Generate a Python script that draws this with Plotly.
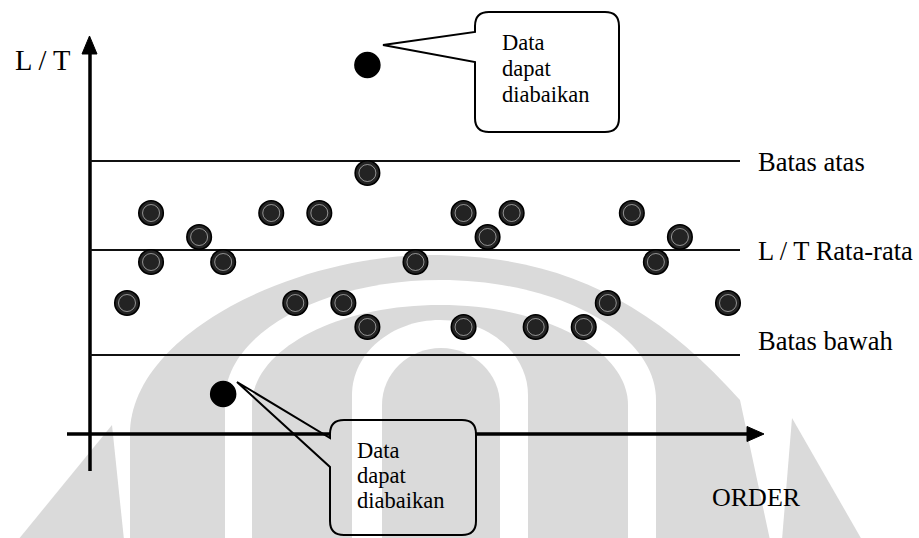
import plotly.graph_objects as go

# ---------------- data ----------------
order = [0, 1, 1, 3, 4, 6, 7, 8, 9, 10, 10, 12, 14, 14, 15, 16, 17, 19, 20, 21, 22, 23, 25]
lt_values = [13.0, 22.0, 17.1, 19.6, 17.1, 22.0, 13.0, 22.0, 13.0, 10.6, 26.0, 17.1,
             22.0, 10.6, 19.6, 22.0, 10.6, 10.6, 13.0, 22.0, 17.1, 19.6, 13.0]
outlier_order = [10, 4]
outlier_values = [36.8, 3.9]

upper_limit = 27.2
mean_value = 18.3
lower_limit = 7.8
limit_labels = ["Batas atas", "L / T Rata-rata", "Batas bawah"]
y_title = "L / T"
x_title = "ORDER"
note_lines = ["Data", "dapat", "diabaikan"]

W, H = 919, 538
X_RANGE = [-5.283, 32.945]
Y_RANGE = [-10.5, 43.3]
FONT = "Liberation Serif, Times New Roman, serif"
GRAY = "#dadada"


def px(x, y):
    """pixel -> paper coordinates (decorations only)"""
    return x / W, 1 - y / H


def path(points_cmds):
    out = []
    for cmd, pts in points_cmds:
        if cmd in ("M", "L"):
            for p in pts:
                out.append(cmd + "%.5f,%.5f" % px(*p))
        else:
            coords = " ".join("%.5f,%.5f" % px(*p) for p in pts)
            out.append(cmd + coords)
    return " ".join(out) + " Z"


def arch(xl, xr, ytop, ysh, ybot=540):
    xc = (xl + xr) / 2
    a = (xr - xl) / 2
    h = ysh - ytop
    k = 0.5523
    return path([
        ("M", [(xl, ybot)]), ("L", [(xl, ysh)]),
        ("C", [(xl, ysh - k * h), (xc - k * a, ytop), (xc, ytop)]),
        ("C", [(xc + k * a, ytop), (xr, ysh - k * h), (xr, ysh)]),
        ("L", [(xr, ybot)]),
    ])


shapes = []


def add_path(p, fill=None, line_color=None, lw=0):
    shapes.append(dict(type="path", xref="paper", yref="paper", path=p,
                       fillcolor=fill if fill else "rgba(0,0,0,0)",
                       line=dict(color=line_color if line_color else "rgba(0,0,0,0)", width=lw),
                       layer="below"))


# ---- watermark (light gray logo) ----
add_path(path([("M", [(18, 540)]), ("L", [(112, 425), (124, 540)])]), fill=GRAY)
add_path(path([("M", [(782, 540)]), ("L", [(792, 418), (862, 540)])]), fill=GRAY)
add_path(path([("M", [(130, 540)]), ("L", [(130, 430)]),
               ("C", [(135, 330), (300, 255), (430, 255)]),
               ("C", [(560, 255), (650, 300), (740, 400)]),
               ("L", [(770, 540)])]), fill=GRAY)
add_path(arch(225, 656, 280, 400), fill="white")
add_path(arch(252, 628, 305, 405), fill=GRAY)
add_path(arch(352, 528, 320, 395), fill="white")
add_path(arch(382, 500, 348, 405), fill=GRAY)

# ---- axes with arrows ----
def add_line(x0, y0, x1, y1, w, color="black"):
    a = px(x0, y0)
    b = px(x1, y1)
    shapes.append(dict(type="line", xref="paper", yref="paper", x0=a[0], y0=a[1], x1=b[0], y1=b[1],
                       line=dict(color=color, width=w), layer="below"))


add_line(90, 471, 90, 50, 3.5)
add_path(path([("M", [(82, 54)]), ("L", [(89.5, 36), (97, 54)])]), fill="black", line_color="black", lw=1)
add_line(67, 434, 330, 434, 3.5)
add_line(476, 434, 750, 434, 3.5)
add_path(path([("M", [(747, 426.5)]), ("L", [(764, 434), (747, 441.5)])]), fill="black", line_color="black", lw=1)

# ---- limit lines (data y) ----
for yv in (upper_limit, mean_value, lower_limit):
    shapes.append(dict(type="line", xref="paper", yref="y", x0=90 / W, x1=740 / W, y0=yv, y1=yv,
                       line=dict(color="#111111", width=2), layer="below"))

# ---- callout bubbles ----
def bubble(xl, yt, xr, yb, att1, att2, tip, r=14):
    return path([
        ("M", [(xl, att1)]), ("L", [(xl, yt + r)]),
        ("Q", [(xl, yt), (xl + r, yt)]), ("L", [(xr - r, yt)]),
        ("Q", [(xr, yt), (xr, yt + r)]), ("L", [(xr, yb - r)]),
        ("Q", [(xr, yb), (xr - r, yb)]), ("L", [(xl + r, yb)]),
        ("Q", [(xl, yb), (xl, yb - r)]), ("L", [(xl, att2)]),
        ("L", [tip]),
    ])


add_path(bubble(475, 12, 619, 132, 32, 62, (383, 45)), line_color="black", lw=2)
add_path(bubble(330, 420, 476, 535, 438, 467, (237, 382)), line_color="black", lw=2)

fig = go.Figure()

fig.add_trace(go.Scatter(
    x=order, y=lt_values, mode="markers",
    marker=dict(size=24.5, color="#232323", line=dict(color="black", width=1.6)),
    hoverinfo="skip", showlegend=False))
fig.add_trace(go.Scatter(
    x=order, y=lt_values, mode="markers",
    marker=dict(size=17, symbol="circle-open", color="rgba(255,255,255,0.5)",
                line=dict(color="rgba(255,255,255,0.5)", width=1)),
    hoverinfo="skip", showlegend=False))
fig.add_trace(go.Scatter(
    x=outlier_order, y=outlier_values, mode="markers",
    marker=dict(size=25, color="black", line=dict(color="black", width=1.5)),
    hoverinfo="skip", showlegend=False))

annotations = []


def text_at(x, y, s, size, xanchor="left"):
    p = px(x, y)
    annotations.append(dict(xref="paper", yref="paper", x=p[0], y=p[1], text=s, showarrow=False,
                            xanchor=xanchor, yanchor="middle",
                            font=dict(family=FONT, size=size, color="black")))


# labels for the limit lines (positioned at their data y)
for lbl, yv, dy in zip(limit_labels, (upper_limit, mean_value, lower_limit), (-0.1, -0.1, 1.4)):
    annotations.append(dict(xref="paper", yref="y", x=756 / W, y=yv + dy, text=lbl, showarrow=False,
                            xanchor="left", yanchor="middle",
                            font=dict(family=FONT, size=26.5, color="black")))

text_at(13, 61, y_title, 28.5)
text_at(710, 497, x_title, 26)
for i, s in enumerate(note_lines):
    text_at(500, 43 + 25.5 * i, s, 22.5)
    text_at(355, 450 + 25.5 * i, s, 22.5)

fig.update_layout(
    width=W, height=H,
    margin=dict(l=0, r=0, t=0, b=0),
    paper_bgcolor="white", plot_bgcolor="rgba(0,0,0,0)",
    xaxis=dict(range=X_RANGE, visible=False, fixedrange=True),
    yaxis=dict(range=Y_RANGE, visible=False, fixedrange=True),
    shapes=shapes, annotations=annotations, showlegend=False,
)

fig.write_html("out.html", config={"displayModeBar": False},
               post_script="document.body.style.margin='0';document.body.style.overflow='hidden';")
